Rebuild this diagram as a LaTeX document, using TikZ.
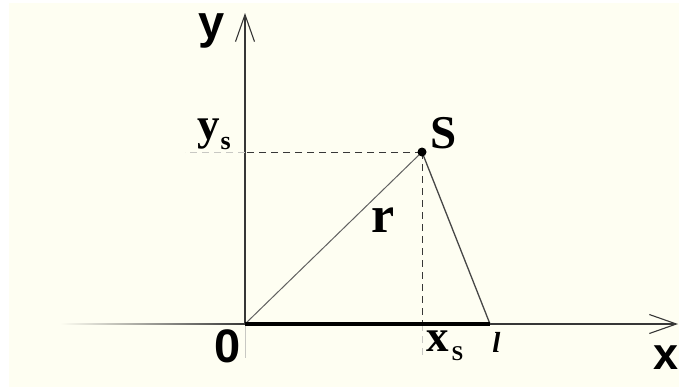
\documentclass[tikz,border=0pt]{standalone}
\usepackage{fontspec}
\setmainfont{Liberation Serif}
\newfontfamily\sansb{Liberation Sans}
\usetikzlibrary{arrows.meta}
\definecolor{bg}{RGB}{254,254,242}
\definecolor{axis}{RGB}{55,55,55}
\definecolor{faint}{RGB}{200,200,195}
\tikzset{
  lbl/.style={inner sep=0pt, outer sep=0pt},
  sanslbl/.style={lbl, font=\sansb\bfseries\fontsize{47}{50}\selectfont},
  seriflbl/.style={lbl, font=\bfseries\fontsize{45}{48}\selectfont},
  axisline/.style={draw=axis, line width=1.1pt},
  barb/.style={-{Straight Barb[length=27pt,width=19pt,line width=1.1pt]}},
  guide/.style={draw=axis, line width=1pt, dash pattern=on 7pt off 5pt},
  faintguide/.style={draw=faint, line width=1pt, dash pattern=on 7pt off 5pt},
  side/.style={draw=black!62, line width=1pt},
  side2/.style={draw=black!72, line width=1.3pt},
  rod/.style={draw=black, line width=4.5pt},
}
\begin{document}
\begin{tikzpicture}[x=1pt,y=-1pt]
\useasboundingbox (0,0) rectangle (679,391);
\fill[white] (0,0) rectangle (679,391);
\fill[bg] (9,3) rectangle (679,387);

\coordinate (O) at (245,324);
\coordinate (S) at (422,152);
\coordinate (L) at (490,324);
\coordinate (Xend) at (678,324);
\coordinate (Yend) at (245,13);
\coordinate (Ybot) at (245,358);
\coordinate (Ys) at (O |- S);
\coordinate (Xs) at (S |- O);
\coordinate (Dleft) at (185,152);
\coordinate (Dbot) at (422,358);

% faded parts of axes
\shade[left color=bg, right color=axis] (60,323.5) rectangle (245,324.6);
\draw[draw=faint, line width=1pt] (O) -- (Ybot);

% axes
\draw[axisline, barb] (O) -- (Xend);
\draw[axisline, barb] (O) -- (Yend);

% guides
\draw[faintguide] (Ys) -- (Dleft);
\draw[guide] (S) -- (Ys);
\draw[guide] (S) -- (Xs);
\draw[faintguide] (Xs) -- (Dbot);

% triangle
\draw[side] (O) -- (S);
\draw[side2] (S) -- (L);
\draw[rod] (O) -- (L);
\fill[black] (S) circle (4.5pt);

% labels
\node[sanslbl] (ylab) at (211.5,30.5) {y};
\node[sanslbl, font=\sansb\bfseries\fontsize{45}{50}\selectfont] (xlab) at (666,357.5) {x};
\node[sanslbl] (zero) at (227.5,346.5) {0};
\node[seriflbl, anchor=base west] (yslab) at (197,139) {y\kern1pt\raisebox{-10pt}{\fontsize{26}{26}\selectfont s}};
\node[seriflbl, anchor=base west] (xslab) at (426,351) {x\kern3pt\raisebox{-9pt}{\fontsize{21}{21}\selectfont S}};
\node[lbl, font=\bfseries\fontsize{47}{50}\selectfont] (slab) at (443.5,133) {S};
\node[lbl, font=\bfseries\fontsize{52}{54}\selectfont] (rlab) at (383,220) {r};
\node[lbl, font=\bfseries\itshape\fontsize{29}{30}\selectfont] (llab) at (496.5,342.5) {l};
\end{tikzpicture}
\end{document}
